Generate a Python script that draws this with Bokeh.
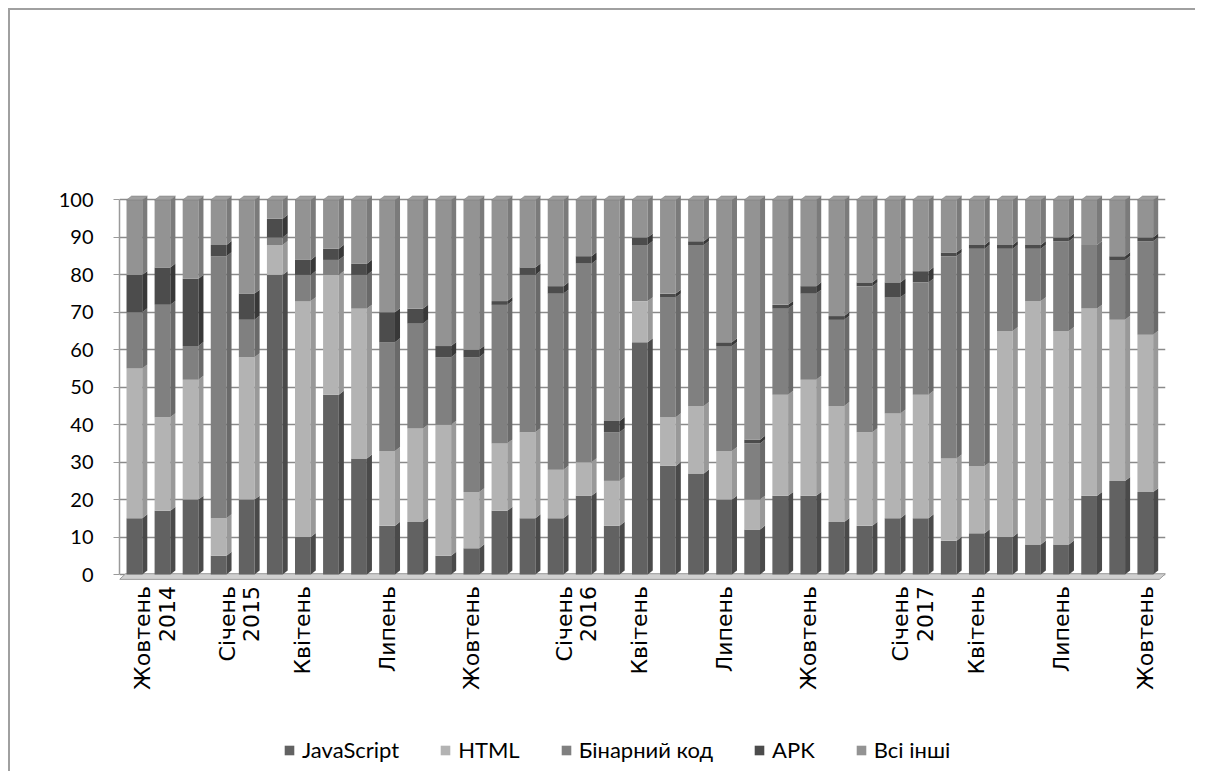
from bokeh.plotting import figure
from bokeh.models import (ColumnDataSource, FixedTicker, Legend, LegendItem, Range1d)
from bokeh.core.properties import value
from bokeh.embed import file_html
from bokeh.resources import INLINE
import math

# data
label_index = [0, 3, 6, 9, 12, 15, 18, 21, 24, 27, 30, 33, 36]
label_month = ["Жовтень", "Січень", "Квітень", "Липень", "Жовтень", "Січень", "Квітень",
               "Липень", "Жовтень", "Січень", "Квітень", "Липень", "Жовтень"]
label_year = ["2014", "2015", "", "", "", "2016", "", "", "", "2017", "", "", ""]

series_names = ["JavaScript", "HTML", "Бінарний код", "APK", "Всі інші"]
javascript = [15, 17, 20, 5, 20, 80, 10, 48, 31, 13, 14, 5, 7, 17, 15, 15, 21, 13, 62, 29, 27, 20, 12, 21, 21, 14, 13, 15, 15, 9, 11, 10, 8, 8, 21, 25, 22]
html = [40, 25, 32, 10, 38, 8, 63, 32, 40, 20, 25, 35, 15, 18, 23, 13, 9, 12, 11, 13, 18, 13, 8, 27, 31, 31, 25, 28, 33, 22, 18, 55, 65, 57, 50, 43, 42]
binary = [15, 30, 9, 70, 10, 2, 7, 4, 9, 29, 28, 18, 36, 37, 42, 47, 53, 13, 15, 32, 43, 28, 15, 23, 23, 23, 39, 31, 30, 54, 58, 22, 14, 24, 17, 16, 25]
apk = [10, 10, 18, 3, 7, 5, 4, 3, 3, 8, 4, 3, 2, 1, 2, 2, 2, 3, 2, 1, 1, 1, 1, 1, 2, 1, 1, 4, 3, 1, 1, 1, 1, 1, 0, 1, 1]
others = [20, 18, 21, 12, 25, 5, 16, 13, 17, 30, 29, 39, 40, 27, 18, 23, 15, 59, 10, 25, 11, 38, 64, 28, 23, 31, 22, 22, 19, 14, 12, 12, 12, 10, 12, 15, 10]
y_ticks = list(range(0, 101, 10))

front_colors = ["#626262", "#b3b3b3", "#808080", "#4c4c4c", "#939393"]
side_colors = ["#4a4a4a", "#999999", "#6a6a6a", "#383838", "#7b7b7b"]
cap_color = "#a0a0a0"

half = 0.28
side_w = 0.18
depth = 1.06

p = figure(frame_width=1046, frame_height=579, output_backend="svg", toolbar_location=None,
           x_range=Range1d(-0.53, 36.72), y_range=Range1d(-52.6, 102.0),
           min_border_left=109, min_border_right=30, min_border_top=182,
           min_border_bottom=0)
p.outline_line_color = None
p.background_fill_color = "white"
p.border_fill_color = "white"
p.styles = {"border-top": "2px solid #a0a0a0", "border-left": "2px solid #a0a0a0",
            "margin-left": "8px", "margin-top": "8px"}

# grid
p.xgrid.grid_line_color = None
p.ygrid.ticker = FixedTicker(ticks=y_ticks)
p.ygrid.grid_line_color = "#8a8a8a"
p.ygrid.grid_line_width = 1.5

n = len(javascript)
xs = list(range(n))

# floor
p.patch([-0.53, 36.5, 36.72, -0.31], [-1.3, -1.3, 0.2, 0.2],
        fill_color="#d0d0d0", line_color="#9a9a9a", line_width=1)

series = [javascript, html, binary, apk, others]
bottoms = [0.0] * n
bar_renderers = []
for k, vals in enumerate(series):
    tops = [b + v for b, v in zip(bottoms, vals)]
    src = ColumnDataSource(dict(x=xs, bottom=bottoms, top=tops))
    r = p.vbar(x="x", bottom="bottom", top="top", width=2 * half, source=src,
               fill_color=front_colors[k], line_color=None)
    bar_renderers.append(r)
    side_x = []
    side_y = []
    for i in range(n):
        if vals[i] <= 0:
            continue
        c = xs[i]
        side_x.append([c + half, c + half + side_w, c + half + side_w, c + half])
        side_y.append([bottoms[i], bottoms[i] + depth, tops[i] + depth, tops[i]])
    p.patches(side_x, side_y, fill_color=side_colors[k], line_color=None)
    bottoms = tops

# top caps
cap_x = []
cap_y = []
for i in range(n):
    c = xs[i]
    t = bottoms[i]
    cap_x.append([c - half, c - half + side_w, c + half + side_w, c + half])
    cap_y.append([t, t + depth, t + depth, t])
p.patches(cap_x, cap_y, fill_color=cap_color, line_color="#7b7b7b", line_width=0.5)

# category labels (rotated, under the floor)
month_shift = [0.3 if y else 0.0 for y in label_year]
month_x = [i + s for i, s in zip(label_index, month_shift)]
year_x = [i + 1.15 for i in label_index]
label_top = -3.1
p.text(x=month_x, y=[label_top] * len(month_x), text=label_month, angle=math.pi / 2,
       text_align="right", text_baseline="middle", text_font=value("DejaVu Sans"),
       text_font_size="22px", text_color="#000000")
p.text(x=year_x, y=[label_top] * len(year_x), text=label_year, angle=math.pi / 2,
       text_align="right", text_baseline="middle", text_font=value("DejaVu Sans"),
       text_font_size="22px", text_color="#000000")

# axes
p.xaxis.visible = False
p.yaxis.ticker = FixedTicker(ticks=y_ticks)
p.yaxis.bounds = (0, 100)
p.yaxis.axis_line_color = "#9a9a9a"
p.yaxis.axis_line_width = 1.5
p.yaxis.major_tick_line_color = "#9a9a9a"
p.yaxis.major_tick_out = 6
p.yaxis.major_tick_in = 0
p.yaxis.minor_tick_line_color = None
p.yaxis.major_label_text_font = "Lato"
p.yaxis.major_label_text_font_size = "20px"
p.yaxis.major_label_text_color = "#000000"
p.yaxis.major_label_standoff = 20

legend = Legend(items=[LegendItem(label=series_names[k], renderers=[bar_renderers[k]]) for k in range(5)],
                orientation="horizontal", location=(164, 8))
legend.label_text_font = "Lato"
legend.label_text_font_size = "22px"
legend.label_text_color = "#000000"
legend.glyph_width = 12
legend.glyph_height = 12
legend.spacing = 40
legend.label_standoff = 7
legend.border_line_color = None
legend.background_fill_alpha = 0
legend.margin = 0
legend.padding = 4
p.add_layout(legend, "center")

open("out.html", "w").write(file_html(p, INLINE))
